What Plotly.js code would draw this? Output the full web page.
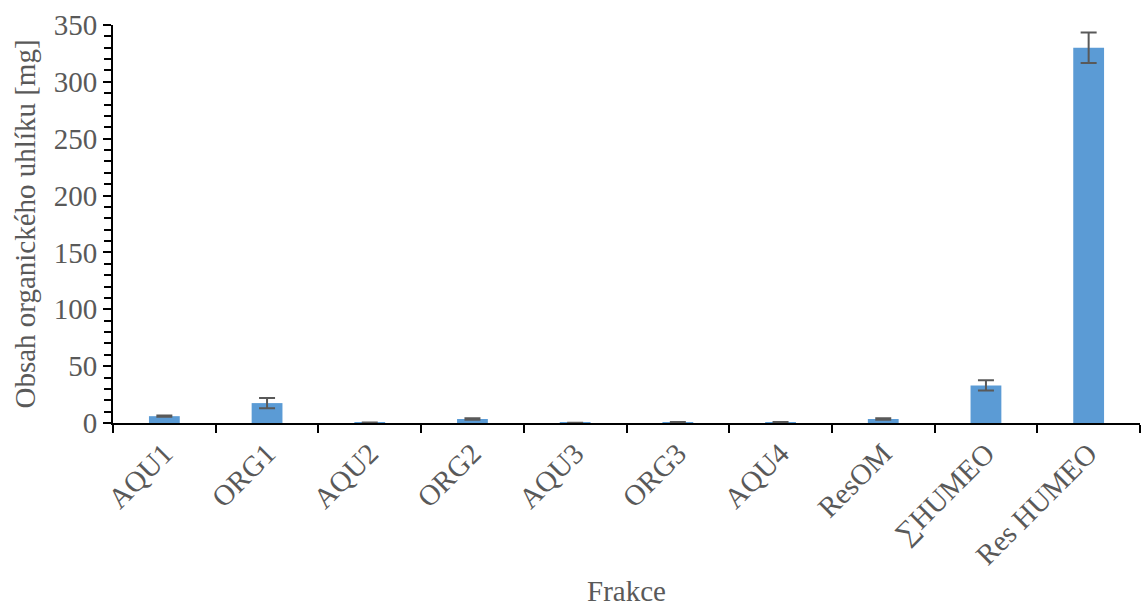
<!DOCTYPE html>
<html><head><meta charset="utf-8">
<script src="https://cdn.plot.ly/plotly-3.0.1.min.js"></script>
<style>body{margin:0}#c{width:1141px;height:607px}</style>
</head><body><div id="c"></div>
<script>
const categories = ["AQU1","ORG1","AQU2","ORG2","AQU3","ORG3","AQU4","ResOM","∑HUMEO","Res HUMEO"];
const values = [6, 17.5, 0.3, 3.5, 0.2, 0.6, 0.6, 3.5, 33, 330];
const errors = [0.5, 4.5, 0.2, 0.6, 0.1, 0.3, 0.3, 0.6, 4.5, 13.5];

const FONT = "'Times New Roman', 'Liberation Serif', serif";
Plotly.newPlot("c", [{
  type: "bar", x: categories, y: values,
  marker: {color: "#5b9bd5"},
  error_y: {type: "data", array: errors, visible: true, color: "#595959", thickness: 2, width: 8}
}], {
  width: 1141, height: 607,
  margin: {l: 113, r: 1, t: 25, b: 184},
  bargap: 0.7,
  paper_bgcolor: "white", plot_bgcolor: "white",
  font: {family: FONT, color: "#595959", size: 29},
  xaxis: {
    type: "category", tickson: "boundaries", ticks: "outside", ticklen: 8, tickcolor: "#000", tickwidth: 2,
    showline: true, linecolor: "#000", linewidth: 2, tickangle: -45,
    tickfont: {family: FONT, size: 29, color: "#595959"},
    title: {text: "Frakce", font: {family: FONT, size: 29, color: "#595959"}, standoff: 14}
  },
  yaxis: {
    range: [0, 350], dtick: 50, ticks: "outside", ticklen: 8, tickcolor: "#000", tickwidth: 2,
    showline: true, linecolor: "#000", linewidth: 2, showgrid: false, zeroline: false,
    minor: {dtick: 10, ticks: "outside", ticklen: 7, tickcolor: "#000", tickwidth: 1.5},
    tickfont: {family: FONT, size: 29, color: "#595959"},
    title: {text: "Obsah organického uhlíku [mg]", font: {family: FONT, size: 29, color: "#595959"}, standoff: 10}
  },
  showlegend: false
}, {displayModeBar: false});
</script></body></html>
